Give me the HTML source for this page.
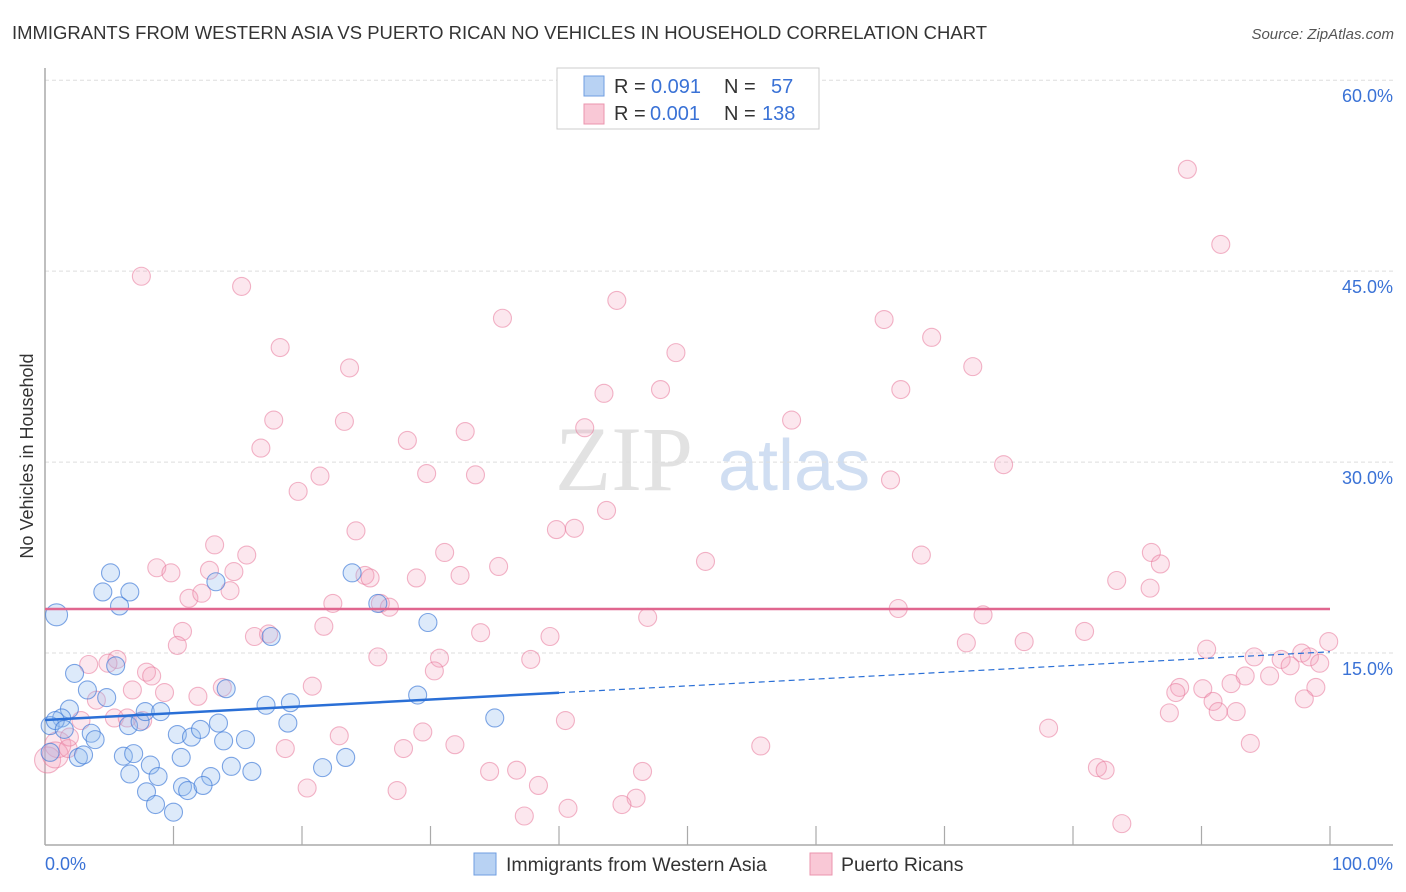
<!DOCTYPE html>
<html><head><meta charset="utf-8"><style>
body{margin:0;background:#fff;font-family:"Liberation Sans",sans-serif;}
svg{display:block}
</style></head><body>
<svg id="chart" width="1406" height="892">
<text x="12" y="39" font-size="18" textLength="975" lengthAdjust="spacingAndGlyphs" fill="#333">IMMIGRANTS FROM WESTERN ASIA VS PUERTO RICAN NO VEHICLES IN HOUSEHOLD CORRELATION CHART</text>
<text x="1394" y="39" font-size="15" fill="#555" font-style="italic" text-anchor="end">Source: ZipAtlas.com</text>
<text x="555" y="490" font-size="92" fill="#e2e2e2" font-family="Liberation Serif,serif">ZIP</text>
<text x="718" y="490" font-size="72" fill="#d0def2">atlas</text>
<text transform="translate(33,456) rotate(-90)" font-size="18" fill="#333" text-anchor="middle">No Vehicles in Household</text>
<g id="grid"></g><g id="axes"></g><g id="pts"></g><g id="trends"></g>
<g>
<rect x="557" y="68" width="262" height="61" fill="#fff" stroke="#ccc"/>
<rect x="584" y="76" width="20" height="20" fill="#b8d2f3" stroke="#6f9ee0"/>
<rect x="584" y="104" width="20" height="20" fill="#f9c8d6" stroke="#eb94ae"/>
<text x="614" y="93" font-size="20" fill="#333">R = <tspan x="651" fill="#3a72d6">0.091</tspan><tspan x="724">N =</tspan><tspan x="771" fill="#3a72d6">57</tspan></text>
<text x="614" y="120" font-size="20" fill="#333">R = <tspan x="650" fill="#3a72d6">0.001</tspan><tspan x="724">N =</tspan><tspan x="762" fill="#3a72d6">138</tspan></text>
</g>
<g>
<rect x="474" y="853" width="22" height="22" fill="#b8d2f3" stroke="#6f9ee0"/>
<text x="506" y="871" font-size="19.5" fill="#333">Immigrants from Western Asia</text>
<rect x="810" y="853" width="22" height="22" fill="#f9c8d6" stroke="#eb94ae"/>
<text x="841" y="871" font-size="19.5" fill="#333">Puerto Ricans</text>
</g>
</svg>
<script>
const yTicks=[15,30,45,60];
const yTickLabels=["15.0%","30.0%","45.0%","60.0%"];
const xTickLabels=["0.0%","100.0%"];
const blueX=[0.9,5.1,4.5,6.6,5.8,13.3,23.9,25.9,17.6,29.8,2.3,3.3,5.5,4.8,1.9,1.3,3.6,3.9,6.5,7.4,7.8,9.0,14.1,19.1,18.9,17.2,29.0,35.0,10.3,11.4,12.1,13.5,13.9,15.6,10.6,6.1,6.9,8.2,6.6,8.8,10.7,11.1,12.9,12.3,14.5,16.1,21.6,23.4,7.9,8.6,10.0,2.6,3.0,0.4,0.8,1.5,0.4];
const blueY=[18.0,21.3,19.8,19.8,18.7,20.6,21.3,18.9,16.3,17.4,13.4,12.1,14.0,11.5,10.6,9.9,8.7,8.2,9.3,9.6,10.4,10.4,12.2,11.1,9.5,10.9,11.7,9.9,8.6,8.4,9.0,9.5,8.1,8.2,6.8,6.9,7.1,6.2,5.5,5.3,4.5,4.2,5.3,4.6,6.1,5.7,6.0,6.8,4.1,3.1,2.5,6.8,7.0,9.3,9.7,9.0,7.2];
const pinkX=[88.9,91.5,7.5,15.3,44.5,35.6,65.3,69.0,18.3,49.1,23.7,72.2,43.5,47.9,66.6,17.8,23.3,58.1,42.0,16.8,28.2,32.7,29.7,33.5,21.4,74.6,19.7,65.8,43.7,24.2,39.8,41.2,13.2,15.7,31.1,68.2,51.4,8.7,9.8,12.8,14.7,24.9,25.3,86.1,86.8,35.3,32.3,28.9,83.4,86.0,11.2,14.4,12.2,22.4,26.1,26.8,66.4,73.0,46.9,10.7,21.7,33.9,39.3,80.9,76.2,71.7,99.9,16.3,17.4,10.3,90.4,94.1,96.2,97.8,98.4,99.2,25.9,37.8,30.7,5.6,3.4,4.9,7.9,8.3,30.3,96.9,93.4,95.3,20.8,88.3,88.0,90.1,92.3,98.9,13.8,6.8,9.3,11.9,98.0,90.9,91.3,92.7,87.5,4.0,2.8,5.4,6.4,7.6,40.5,1.0,0.2,0.8,1.8,1.9,22.9,29.4,78.1,93.8,18.7,27.9,31.9,55.7,34.6,36.7,46.5,81.9,82.5,20.4,27.4,38.4,46.0,44.9,40.7,37.3,83.8];
const pinkY=[53.0,47.1,44.6,43.8,42.7,41.3,41.2,39.8,39.0,38.6,37.4,37.5,35.4,35.7,35.7,33.3,33.2,33.3,32.7,31.1,31.7,32.4,29.1,29.0,28.9,29.8,27.7,28.6,26.2,24.6,24.7,24.8,23.5,22.7,22.9,22.7,22.2,21.7,21.3,21.5,21.4,21.1,20.9,22.9,22.0,21.8,21.1,20.9,20.7,20.1,19.3,19.9,19.7,18.9,18.9,18.6,18.5,18.0,17.8,16.7,17.1,16.6,16.3,16.7,15.9,15.8,15.9,16.3,16.5,15.6,15.3,14.7,14.5,15.0,14.7,14.2,14.7,14.5,14.6,14.5,14.1,14.2,13.5,13.2,13.6,14.0,13.2,13.2,12.4,12.3,11.9,12.2,12.6,12.3,12.3,12.1,11.9,11.6,11.4,11.2,10.4,10.4,10.3,11.3,9.7,9.9,9.9,9.7,9.7,7.8,6.6,7.0,7.5,8.4,8.5,8.8,9.1,7.9,7.5,7.5,7.8,7.7,5.7,5.8,5.7,6.0,5.8,4.4,4.2,4.6,3.6,3.1,2.8,2.2,1.6];
const blueTrend=[9.74,15.1];
const pinkTrend=[18.46,18.46];
const NS="http://www.w3.org/2000/svg";
const X0=45,X1=1330,Y0=844,PY=12.73;
function sx(v){return X0+(X1-X0)*v/100;}
function sy(v){return Y0-v*PY;}
function mk(tag,attrs,parent){const e=document.createElementNS(NS,tag);for(const k in attrs)e.setAttribute(k,attrs[k]);document.getElementById(parent).appendChild(e);return e;}
yTicks.forEach((t,i)=>{
  const l=mk('line',{x1:X0,x2:1393,y1:sy(t),y2:sy(t),stroke:'#ddd','stroke-dasharray':'4,3'},'grid');
  
  
  const tx=mk('text',{x:1393,y:sy(t)+22,'font-size':18,fill:'#3a72d6','text-anchor':'end'},'grid');
  tx.textContent=yTickLabels[i];
  
  
});
const ax=mk('line',{x1:X0,x2:1393,y1:845,y2:845,stroke:'#aaa','stroke-width':1.5},'axes');


const ay=mk('line',{x1:X0,x2:X0,y1:68,y2:845,stroke:'#aaa','stroke-width':1.5},'axes');


for(let i=1;i<=10;i++){const t=mk('line',{x1:sx(i*10),x2:sx(i*10),y1:826,y2:845,stroke:'#aaa','stroke-width':1.2},'axes');
  
  }
[[X0,'start',0],[1393,'end',1]].forEach(([x,a,i])=>{const t=mk('text',{x:x,y:870,'font-size':18,fill:'#3a72d6','text-anchor':a},'axes');t.textContent=xTickLabels[i];
  
  });
pinkX.forEach((v,i)=>{const big=v<1.2&&pinkY[i]<9;const c=mk('circle',{cx:sx(v),cy:sy(pinkY[i]),r:big?13:9,fill:'rgba(244,160,186,0.25)',stroke:'rgba(232,120,155,0.55)','stroke-width':1.1},'pts');
  
  });
blueX.forEach((v,i)=>{const big=i===0;const c=mk('circle',{cx:sx(v),cy:sy(blueY[i]),r:big?11:9,fill:'rgba(150,190,238,0.32)',stroke:'rgba(60,120,215,0.65)','stroke-width':1.1},'pts');
  
  });
const by=x=>blueTrend[0]+(blueTrend[1]-blueTrend[0])*x/100;
const b1=mk('line',{x1:sx(0),y1:sy(by(0)),x2:sx(40),y2:sy(by(40)),stroke:'#2a6fd6','stroke-width':2.5},'trends');


const b2=mk('line',{x1:sx(40),y1:sy(by(40)),x2:sx(100),y2:sy(by(100)),stroke:'#2a6fd6','stroke-width':1.2,'stroke-dasharray':'6,4'},'trends');


const p1=mk('line',{x1:sx(0),y1:sy(pinkTrend[0]),x2:sx(100),y2:sy(pinkTrend[1]),stroke:'#e0668f','stroke-width':2.5},'trends');


</script>
</body></html>
